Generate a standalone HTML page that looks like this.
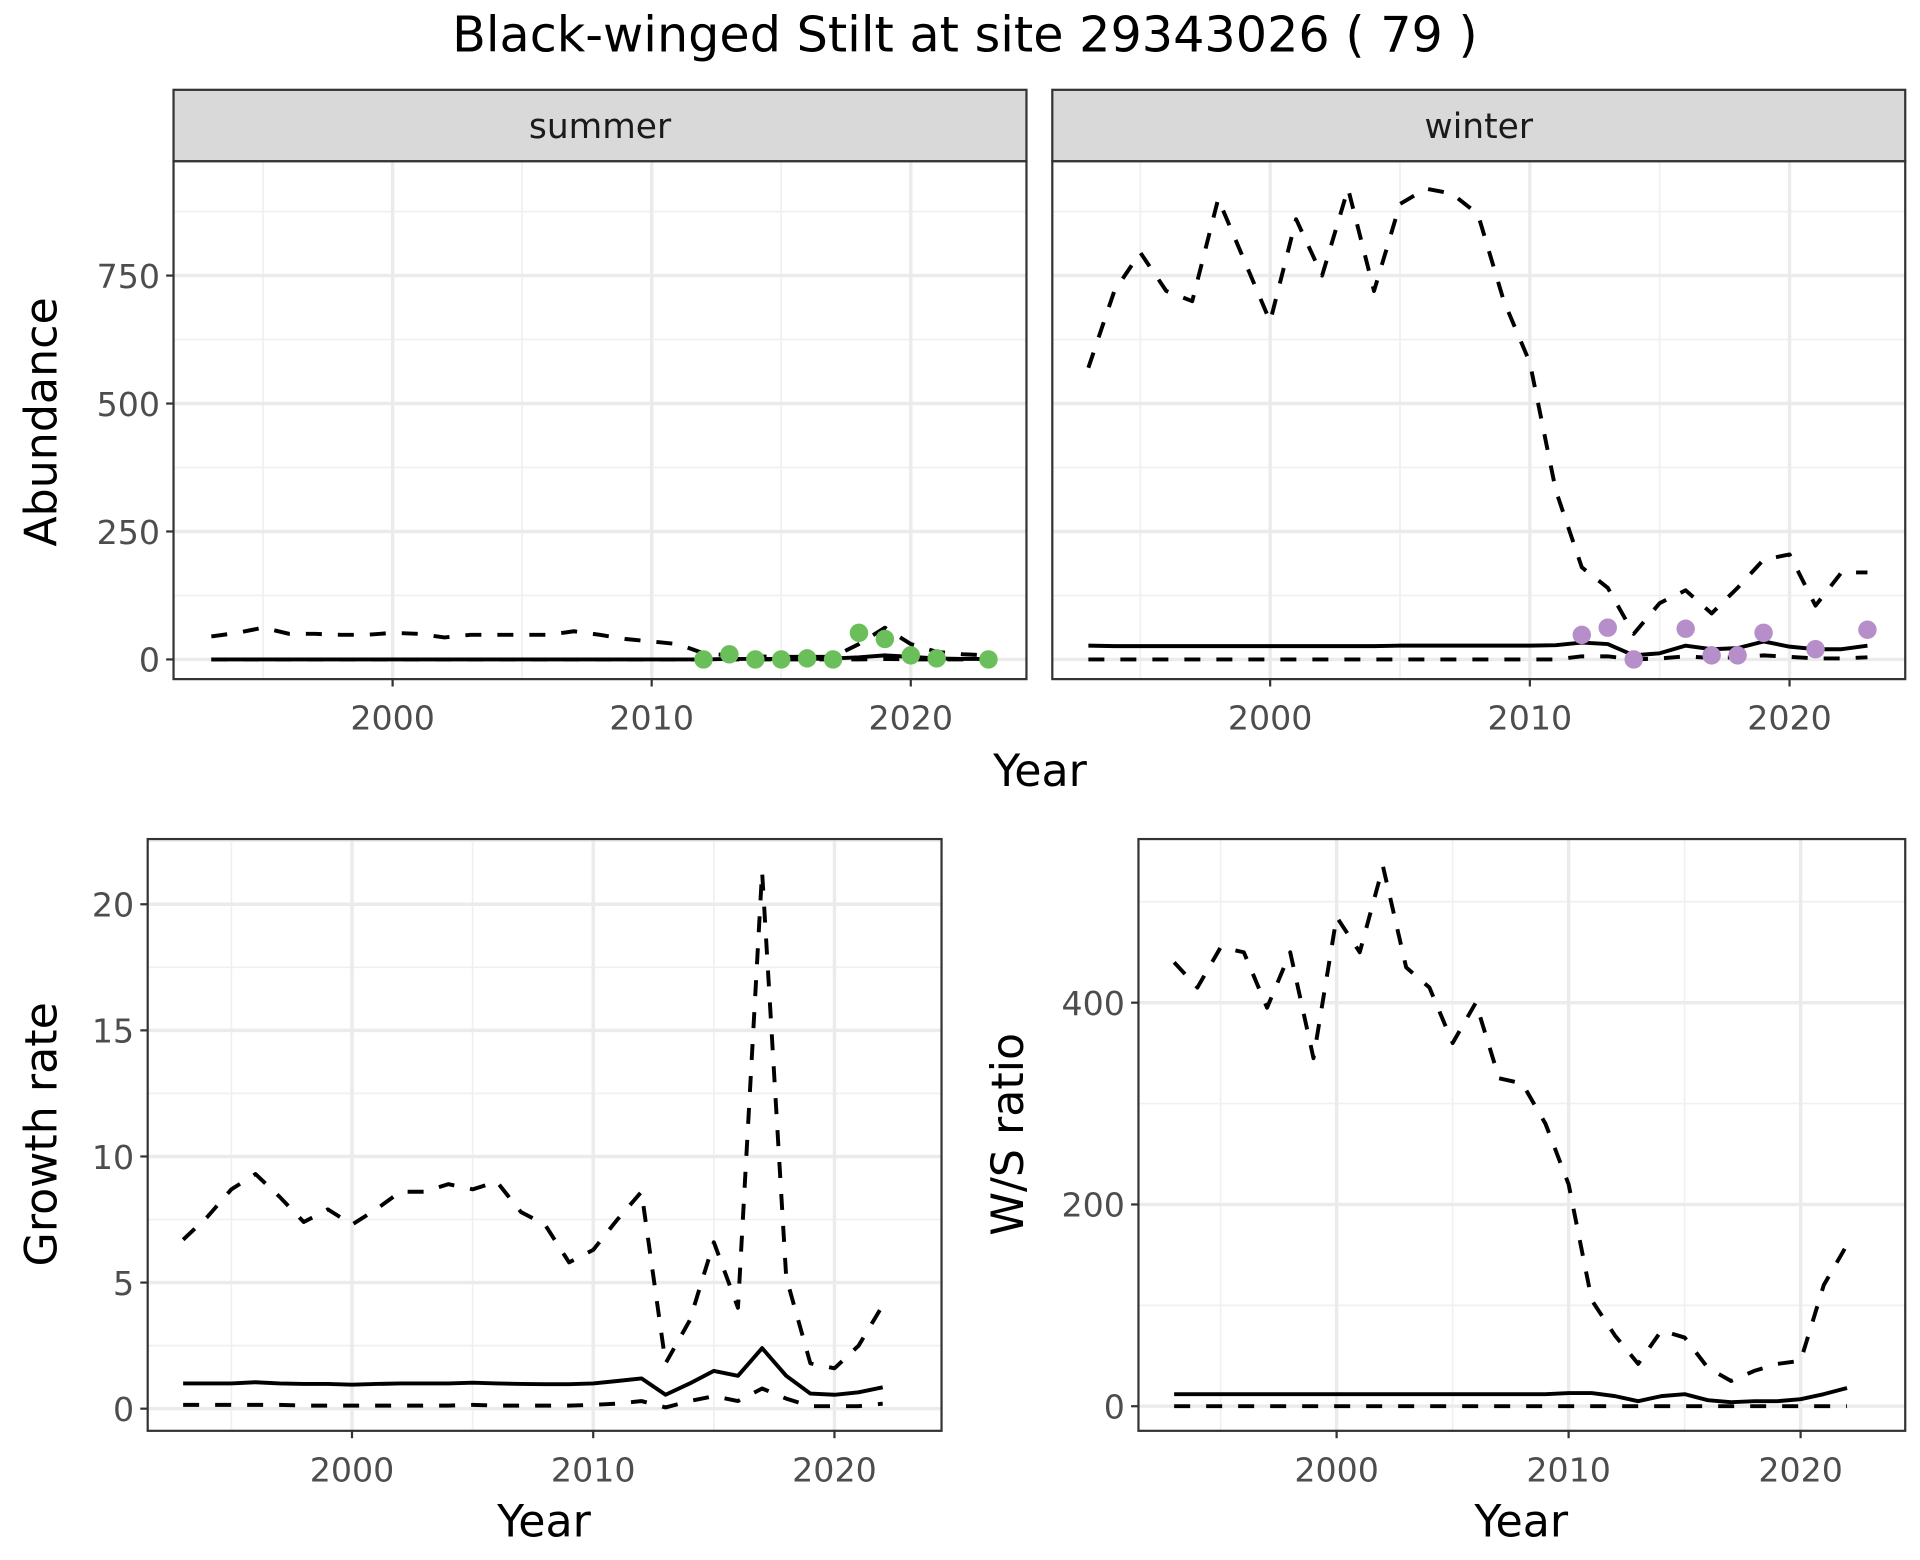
<!DOCTYPE html>
<html><head><meta charset="utf-8">
<style>
html,body{margin:0;padding:0;background:#fff;overflow:hidden}
svg{display:block;width:100vw;height:100vh}
text{font-family:"DejaVu Sans","Liberation Sans",sans-serif}
</style></head><body>
<svg id="c" viewBox="0 0 1560 1268" preserveAspectRatio="none" xmlns="http://www.w3.org/2000/svg">
<rect width="1560" height="1268" fill="#fff"/>
<text x="784" y="42" font-size="40" text-anchor="middle">Black-winged Stilt at site 29343026 ( 79 )</text>
</svg>
<script>
const NS="http://www.w3.org/2000/svg";
const svg=document.getElementById('c');
function mk(tag,attrs,parent){const e=document.createElementNS(NS,tag);for(const k in attrs)e.setAttribute(k,attrs[k]);(parent||svg).appendChild(e);return e;}

const yearsAll=[1993,1994,1995,1996,1997,1998,1999,2000,2001,2002,2003,2004,2005,2006,2007,2008,2009,2010,2011,2012,2013,2014,2015,2016,2017,2018,2019,2020,2021,2022,2023];
const sumUpper=[45,52,62,50,50,48,48,52,50,43,48,48,48,48,55,48,40,35,30,12,8,6,5,5,5,30,62,30,15,10,8];
const sumMid=[0,0,0,0,0,0,0,0,0,0,0,0,0,0,0,0,0,0,0,0,1,1,1,1,2,4,8,5,2,1,1];
const sumLower=[0,0,0,0,0,0,0,0,0,0,0,0,0,0,0,0,0,0,0,0,0,0,0,0,0,0,1,0,0,0,0];
const sumPtYears=[2012,2013,2014,2015,2016,2017,2018,2019,2020,2021,2023];
const sumPtVals=[0,10,0,0,2,0,52,40,8,2,0];
const winUpper=[570,720,795,720,700,900,780,660,860,750,920,720,890,920,910,870,700,580,330,180,140,50,110,135,90,140,195,205,105,170,170];
const winMid=[27,26,26,26,26,26,26,26,26,26,26,26,27,27,27,27,27,27,28,33,30,8,12,27,20,22,35,25,20,20,27];
const winLower=[0,0,0,0,0,0,0,0,0,0,0,0,0,0,0,0,0,0,0,6,6,0,2,6,3,4,8,5,2,2,4];
const winPtYears=[2012,2013,2014,2016,2017,2018,2019,2021,2023];
const winPtVals=[48,62,0,60,8,8,52,20,58];
const abTicks=[0,250,500,750];
const yearTicks=[2000,2010,2020];

const grYears=[1993,1994,1995,1996,1997,1998,1999,2000,2001,2002,2003,2004,2005,2006,2007,2008,2009,2010,2011,2012,2013,2014,2015,2016,2017,2018,2019,2020,2021,2022];
const grUpper=[6.7,7.6,8.7,9.3,8.4,7.4,7.9,7.3,7.9,8.6,8.6,8.9,8.7,9.0,7.8,7.3,5.8,6.3,7.5,8.6,1.8,3.5,6.6,4.0,21.3,5.2,1.8,1.6,2.5,4.1];
const grMid=[1.0,1.0,1.0,1.05,1.0,0.98,0.98,0.95,0.98,1.0,1.0,1.0,1.03,1.0,0.98,0.97,0.97,1.0,1.1,1.2,0.55,1.0,1.5,1.3,2.4,1.3,0.6,0.55,0.65,0.85];
const grLower=[0.15,0.15,0.15,0.15,0.15,0.12,0.12,0.12,0.12,0.12,0.12,0.12,0.15,0.12,0.12,0.12,0.12,0.15,0.2,0.3,0.05,0.3,0.5,0.3,0.8,0.4,0.1,0.1,0.1,0.2];
const grTicks=[0,5,10,15,20];
const wsUpper=[440,415,455,450,395,450,345,485,450,535,435,415,360,400,325,320,280,220,105,70,42,75,68,38,25,35,42,45,120,160];
const wsMid=[12,12,12,12,12,12,12,12,12,12,12,12,12,12,12,12,12,13,13,10,5,10,12,6,4,5,5,7,12,18];
const wsLower=[0,0,0,0,0,0,0,0,0,0,0,0,0,0,0,0,0,0,0,0,0,0,0,0,0,0,0,0,0,0];
const wsTicks=[0,200,400];

function panel(o){
  const g=mk('g',{});
  
  
  const sx=v=>o.x0+(v-o.xa)*(o.x1-o.x0)/(o.xb-o.xa);
  const sy=v=>o.y0+(v-o.ya)*(o.y1-o.y0)/(o.yb-o.ya);
  const xt=o.xticks;
  const minorX=[xt[0]-5,xt[0]+5,xt[1]+5];
  minorX.forEach(v=>{const X=sx(v);if(X>o.L&&X<o.R)mk('line',{x1:X,x2:X,y1:o.T,y2:o.B,stroke:'#f0f0f0','stroke-width':1.4},g);});
  const yt=o.yticks;const step=yt[1]-yt[0];
  for(let v=yt[0]-step/2;v<=yt[yt.length-1]+step;v+=step){const Y=sy(v);if(Y>o.T&&Y<o.B)mk('line',{x1:o.L,x2:o.R,y1:Y,y2:Y,stroke:'#f0f0f0','stroke-width':1.4},g);}
  xt.forEach(v=>{const X=sx(v);mk('line',{x1:X,x2:X,y1:o.T,y2:o.B,stroke:'#ebebeb','stroke-width':2.8},g);});
  yt.forEach(v=>{const Y=sy(v);mk('line',{x1:o.L,x2:o.R,y1:Y,y2:Y,stroke:'#ebebeb','stroke-width':2.8},g);});
  o.series.forEach(s=>{
    const d=s.vals.map((v,i)=>(i?'L':'M')+sx(s.years[i]).toFixed(1)+','+sy(v).toFixed(1)).join('');
    const p=mk('path',{d:d,fill:'none',stroke:'#000','stroke-width':3.2,'stroke-dasharray':s.dash?'13,13':'none','stroke-linejoin':'round'},g);
    
    
  });
  if(o.pts){o.pts.years.forEach((yr,i)=>{
    const c=mk('circle',{cx:sx(yr),cy:sy(o.pts.vals[i]),r:7.5,fill:o.pts.color},g);
    
    
  });}
  mk('rect',{x:o.L,y:o.T,width:o.R-o.L,height:o.B-o.T,fill:'none',stroke:'#333','stroke-width':1.8},g);
  if(o.strip){
    mk('rect',{x:o.L,y:o.T-58,width:o.R-o.L,height:58,fill:'#d9d9d9',stroke:'#333','stroke-width':1.8},g);
    const st=mk('text',{x:(o.L+o.R)/2,y:o.T-19,'font-size':28,'text-anchor':'middle',fill:'#1a1a1a'},g);
    st.textContent=o.strip;
    
    
  }
  xt.forEach(v=>{const X=sx(v);mk('line',{x1:X,x2:X,y1:o.B,y2:o.B+6,stroke:'#333','stroke-width':1.8},g);
    const t=mk('text',{x:X,y:o.B+41,'font-size':27,'text-anchor':'middle',fill:'#4d4d4d'},g);t.textContent=v;
    
    });
  if(o.ylab){yt.forEach(v=>{const Y=sy(v);mk('line',{x1:o.L-6,x2:o.L,y1:Y,y2:Y,stroke:'#333','stroke-width':1.8},g);
    const t=mk('text',{x:o.L-11,y:Y+10,'font-size':27,'text-anchor':'end',fill:'#4d4d4d'},g);t.textContent=v;
    
    });}
}

panel({name:'summer-panel',L:141,R:834,T:131,B:552,xa:2000,xb:2020,x0:319,x1:740,ya:0,yb:750,y0:536,y1:224,xticks:yearTicks,yticks:abTicks,ylab:true,strip:'summer',
  series:[{name:'summer-upper',years:yearsAll,vals:sumUpper,dash:true},{name:'summer-mean',years:yearsAll,vals:sumMid},{name:'summer-lower',years:yearsAll,vals:sumLower,dash:true}],
  pts:{years:sumPtYears,vals:sumPtVals,color:'#6abf5a'}});
panel({name:'winter-panel',L:855,R:1548,T:131,B:552,xa:2000,xb:2020,x0:1032,x1:1454,ya:0,yb:750,y0:536,y1:224,xticks:yearTicks,yticks:abTicks,ylab:false,strip:'winter',
  series:[{name:'winter-upper',years:yearsAll,vals:winUpper,dash:true},{name:'winter-mean',years:yearsAll,vals:winMid},{name:'winter-lower',years:yearsAll,vals:winLower,dash:true}],
  pts:{years:winPtYears,vals:winPtVals,color:'#b68fca'}});
panel({name:'growth-panel',L:120,R:765,T:682,B:1163,xa:2000,xb:2020,x0:286,x1:678,ya:0,yb:20,y0:1145,y1:735,xticks:yearTicks,yticks:grTicks,ylab:true,
  series:[{name:'growth-upper',years:grYears,vals:grUpper,dash:true},{name:'growth-mean',years:grYears,vals:grMid},{name:'growth-lower',years:grYears,vals:grLower,dash:true}]});
panel({name:'ws-panel',L:925,R:1548,T:682,B:1163,xa:2000,xb:2020,x0:1086,x1:1463,ya:0,yb:400,y0:1143,y1:815,xticks:yearTicks,yticks:wsTicks,ylab:true,
  series:[{name:'ws-upper',years:grYears,vals:wsUpper,dash:true},{name:'ws-mean',years:grYears,vals:wsMid},{name:'ws-lower',years:grYears,vals:wsLower,dash:true}]});

function lab(txt,x,y,rot,name){const t=mk('text',{x:x,y:y,'font-size':36,'text-anchor':'middle',fill:'#000',transform:rot?`rotate(-90 ${x} ${y})`:''});t.textContent=txt;
  
  }
lab('Year',845,639,false,'x-axis-title-top');
lab('Abundance',46,343,true,'y-axis-title-abundance');
lab('Year',442,1249,false,'x-axis-title-growth');
lab('Growth rate',46,922,true,'y-axis-title-growth');
lab('Year',1236,1249,false,'x-axis-title-ws');
lab('W/S ratio',831,922,true,'y-axis-title-ws');
</script>
</body></html>
